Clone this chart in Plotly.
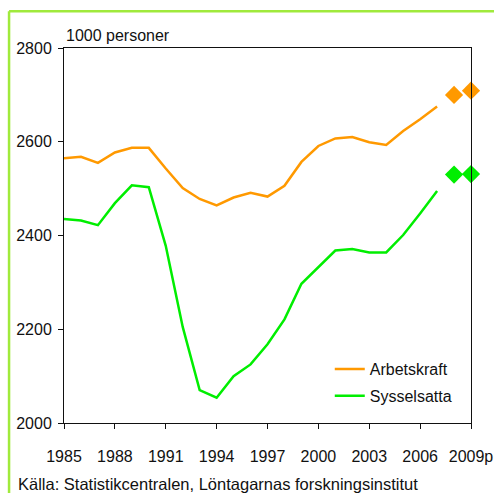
import plotly.graph_objects as go

years = list(range(1985, 2008))
arbetskraft = [2565, 2568, 2555, 2577, 2587, 2587, 2543, 2501, 2478, 2464, 2481, 2491,
               2483, 2506, 2557, 2591, 2607, 2610, 2599, 2593, 2623, 2648, 2675]
sysselsatta = [2435, 2432, 2422, 2469, 2507, 2503, 2378, 2205, 2070, 2054, 2100, 2125,
               2168, 2221, 2297, 2333, 2368, 2371, 2364, 2364, 2401, 2447, 2495]
prog_years = [2008, 2009]
arbetskraft_prog = [2700, 2709]
sysselsatta_prog = [2530, 2531]
tick_years = [1985, 1988, 1991, 1994, 1997, 2000, 2003, 2006, 2009]
tick_labels = ["1985", "1988", "1991", "1994", "1997", "2000", "2003", "2006", "2009p"]

ORANGE = "#FF9900"
GREEN = "#00EE00"
FONT = "Liberation Sans, Arial, sans-serif"

fig = go.Figure()
fig.add_trace(go.Scatter(x=years, y=arbetskraft, mode="lines", name="Arbetskraft",
                         legendgroup="a", line=dict(color=ORANGE, width=2.5)))
fig.add_trace(go.Scatter(x=years, y=sysselsatta, mode="lines", name="Sysselsatta",
                         legendgroup="b", line=dict(color=GREEN, width=2.5)))
fig.add_trace(go.Scatter(x=prog_years, y=arbetskraft_prog, mode="markers", showlegend=False,
                         marker=dict(symbol="diamond", size=14, color=ORANGE), cliponaxis=False))
fig.add_trace(go.Scatter(x=prog_years, y=sysselsatta_prog, mode="markers", showlegend=False,
                         marker=dict(symbol="diamond", size=14, color=GREEN), cliponaxis=False))

fig.update_layout(
    width=494, height=493,
    margin=dict(l=64, r=23, t=48, b=70, autoexpand=False),
    paper_bgcolor="white", plot_bgcolor="white",
    font=dict(family=FONT, size=16, color="#111111"),
    showlegend=True,
    legend=dict(x=0.653, y=0.108, xanchor="left", yanchor="middle",
                bgcolor="rgba(0,0,0,0)", font=dict(size=16),
                tracegroupgap=3, itemwidth=30),
    xaxis=dict(range=[1985, 2009], tickvals=tick_years, ticktext=tick_labels,
               showgrid=False, zeroline=False, showline=True, linecolor="#111111",
               linewidth=1, mirror=True, ticks="outside", ticklen=5, automargin=False,
               tickcolor="#111111", tickfont=dict(size=16), ticklabelstandoff=14),
    yaxis=dict(range=[2000, 2800], tickvals=[2000, 2200, 2400, 2600, 2800],
               showgrid=False, zeroline=False, showline=True, linecolor="#111111",
               linewidth=1, mirror=True, ticks="outside", ticklen=5, automargin=False,
               tickcolor="#111111", tickfont=dict(size=16), ticklabelstandoff=3),
    annotations=[
        dict(text="1000 personer", xref="paper", yref="paper", x=0.0, y=1.0,
             xanchor="left", yanchor="bottom", yshift=2, showarrow=False,
             font=dict(size=16)),
        dict(text="Källa: Statistikcentralen, Löntagarnas forskningsinstitut",
             xref="paper", yref="paper", x=-0.118, y=0, yshift=-61,
             xanchor="left", yanchor="middle", showarrow=False,
             font=dict(size=16.5)),
    ],
    shapes=[
        dict(type="line", xref="paper", yref="paper", x0=-0.135, x1=1.06, y0=1.098, y1=1.098,
             line=dict(color="#A0EA3C", width=2.5)),
        dict(type="line", xref="paper", yref="paper", x0=-0.135, x1=-0.135, y0=1.098, y1=-0.25,
             line=dict(color="#A0EA3C", width=2.5)),
    ],
)

fig.write_html("out.html", config={"displayModeBar": False},
               post_script="document.body.style.margin='0';document.body.style.overflow='hidden';")
